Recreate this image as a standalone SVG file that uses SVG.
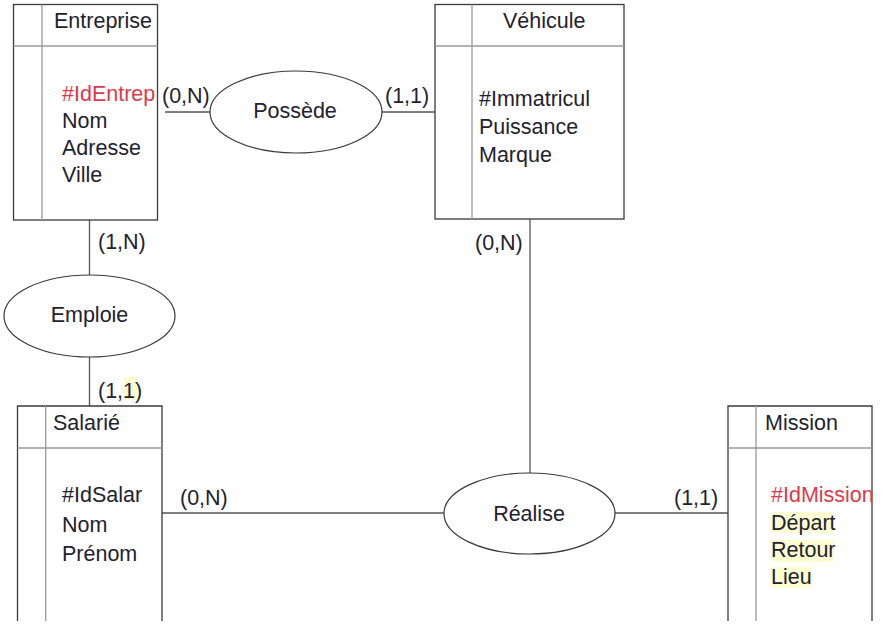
<svg xmlns="http://www.w3.org/2000/svg" width="885" height="625" viewBox="0 0 885 625">
<style>
text{font-family:"Liberation Sans",Arial,sans-serif;font-size:21.5px;fill:#22222e}
.key{fill:#dc3a4c}
.box{fill:#fff;stroke:#3a3a3a;stroke-width:1.3}
.inner{stroke:#9a9a9a;stroke-width:1.3;fill:none}
.ell{fill:#fff;stroke:#3a3a3a;stroke-width:1.2}
.con{stroke:#555;stroke-width:1.3;fill:none}
.hl{fill:#fdfdd2}
.mid{text-anchor:middle}
</style>
<rect width="885" height="625" fill="#fff"/>
<g id="connectors">
<line class="con" x1="165" y1="112" x2="210" y2="112"/>
<line class="con" x1="382" y1="112" x2="435" y2="112"/>
<line class="con" x1="89.5" y1="220" x2="89.5" y2="275"/>
<line class="con" x1="89.5" y1="357" x2="89.5" y2="406"/>
<line class="con" x1="530" y1="219" x2="530" y2="473"/>
<line class="con" x1="162" y1="513" x2="444" y2="513"/>
<line class="con" x1="615" y1="513" x2="728" y2="513"/>
<text x="162" y="103">(0,N)</text>
<text x="385" y="103">(1,1)</text>
<text x="98" y="249">(1,N)</text>
<rect class="hl" x="124" y="377" width="13" height="23"/>
<text x="98" y="398">(1,1)</text>
<text x="475" y="250">(0,N)</text>
<text x="180" y="505">(0,N)</text>
<text x="674" y="505">(1,1)</text>
</g>
<g id="entreprise">
<rect class="box" x="13.5" y="4.5" width="144" height="215.5"/>
<line class="inner" x1="42" y1="4.5" x2="42" y2="220"/>
<line class="inner" x1="13.5" y1="46" x2="157.5" y2="46"/>
<text x="54" y="28">Entreprise</text>
<text class="key" x="62" y="101">#IdEntrep</text>
<text x="62" y="128">Nom</text>
<text x="62" y="155">Adresse</text>
<text x="62" y="182">Ville</text>
</g>
<g id="vehicule">
<rect class="box" x="435" y="4.5" width="189" height="214.5"/>
<line class="inner" x1="472" y1="4.5" x2="472" y2="219"/>
<line class="inner" x1="435" y1="46" x2="624" y2="46"/>
<text x="503" y="28">Véhicule</text>
<text x="479" y="106">#Immatricul</text>
<text x="479" y="134">Puissance</text>
<text x="479" y="162">Marque</text>
</g>
<g id="possede">
<ellipse class="ell" cx="296" cy="112" rx="86" ry="41"/>
<text class="mid" x="295" y="118">Possède</text>
</g>
<g id="emploie">
<ellipse class="ell" cx="89.5" cy="316" rx="85.5" ry="41"/>
<text class="mid" x="89.5" y="322">Emploie</text>
</g>
<g id="salarie">
<path class="box" d="M17.5 621 V406 H162 V621"/>
<line class="inner" x1="45.7" y1="406" x2="45.7" y2="621"/>
<line class="inner" x1="17.5" y1="448" x2="162" y2="448"/>
<text x="53" y="430">Salarié</text>
<text x="62" y="502">#IdSalar</text>
<text x="62" y="532">Nom</text>
<text x="62" y="561">Prénom</text>
</g>
<g id="realise">
<ellipse class="ell" cx="529.5" cy="513.5" rx="85.5" ry="40.5"/>
<text class="mid" x="529" y="521">Réalise</text>
</g>
<g id="mission">
<path class="box" d="M728 621 V406 H872 V621"/>
<line class="inner" x1="756" y1="406" x2="756" y2="621"/>
<line class="inner" x1="728" y1="448" x2="872" y2="448"/>
<text x="765" y="430">Mission</text>
<rect class="hl" x="771" y="512" width="63" height="21"/>
<rect class="hl" x="771" y="540" width="63" height="22"/>
<rect class="hl" x="771" y="567" width="41" height="21"/>
<text class="key" x="771" y="502">#IdMission</text>
<text x="771" y="530">Départ</text>
<text x="771" y="557">Retour</text>
<text x="771" y="584">Lieu</text>
</g>
</svg>
